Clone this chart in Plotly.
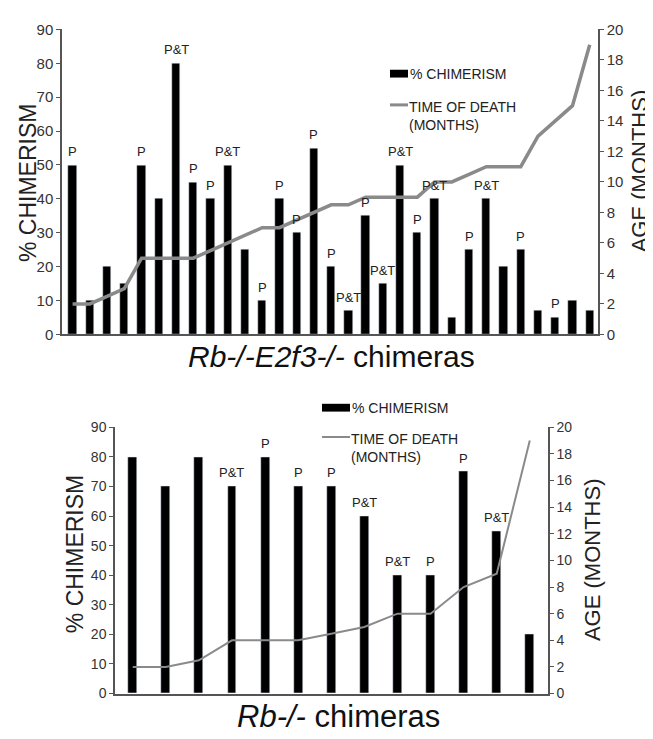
import plotly.graph_objects as go

# ---------------- data ----------------
top_mice = list(range(1, 32))
top_chimerism = [50, 10, 20, 15, 50, 40, 80, 45, 40, 50, 25, 10, 40, 30, 55, 20,
                 7, 35, 15, 50, 30, 40, 5, 25, 40, 20, 25, 7, 5, 10, 7]
top_death = [2, 2, 2.5, 3, 5, 5, 5, 5, 5.5, 6, 6.5, 7, 7, 7.5, 8, 8.5,
             8.5, 9, 9, 9, 9, 10, 10, 10.5, 11, 11, 11, 13, 14, 15, 19]
top_labels = ["P", "", "", "", "P", "", "P&T", "P", "P", "P&T", "", "P", "P", "P", "P", "P",
              "P&T", "P", "P&T", "P&T", "P", "P&T", "", "P", "P&T", "", "P", "", "P", "", ""]

bot_mice = list(range(1, 14))
bot_chimerism = [80, 70, 80, 70, 80, 70, 70, 60, 40, 40, 75, 55, 20]
bot_death = [2, 2, 2.5, 4, 4, 4, 4.5, 5, 6, 6, 8, 9, 19]
bot_labels = ["", "", "", "P&T", "P", "P", "P", "P&T", "P&T", "P", "P", "P&T", ""]

left_ticks = list(range(0, 91, 10))
right_ticks = list(range(0, 21, 2))

# ---------------- layout helpers ----------------
# The page body keeps the browser's default 8px margin, so the figure is
# sized to fill the remaining window and positions are measured from there.
OFF = 8
W, H = 653 - OFF, 739 - OFF
FONT = "Liberation Sans, Arial, Helvetica, sans-serif"
BAR = "#000000"
LINE = "#8a8a8a"
AX = "#555555"
TXT = "#222222"


def px(x):
    return (x - OFF) / W


def py(y):
    return 1 - (y - OFF) / H


fig = go.Figure()

# top chart
fig.add_trace(go.Bar(x=top_mice, y=top_chimerism, marker_color=BAR, width=0.48,
                     xaxis="x", yaxis="y", showlegend=False, name="% CHIMERISM"))
fig.add_trace(go.Scatter(x=top_mice, y=top_death, mode="lines",
                         line=dict(color=LINE, width=3.5),
                         xaxis="x", yaxis="y2", showlegend=False,
                         name="TIME OF DEATH (MONTHS)"))
# bottom chart
fig.add_trace(go.Bar(x=bot_mice, y=bot_chimerism, marker_color=BAR, width=0.27,
                     xaxis="x2", yaxis="y3", showlegend=False, name="% CHIMERISM"))
fig.add_trace(go.Scatter(x=bot_mice, y=bot_death, mode="lines",
                         line=dict(color=LINE, width=2),
                         xaxis="x2", yaxis="y4", showlegend=False,
                         name="TIME OF DEATH (MONTHS)"))

annotations = []
for xv, yv, lab in zip(top_mice, top_chimerism, top_labels):
    if lab:
        annotations.append(dict(x=xv, y=yv, xref="x", yref="y", text=lab,
                                showarrow=False, yanchor="bottom", yshift=4,
                                font=dict(family=FONT, size=13, color=TXT)))
for xv, yv, lab in zip(bot_mice, bot_chimerism, bot_labels):
    if lab:
        annotations.append(dict(x=xv, y=yv, xref="x2", yref="y3", text=lab,
                                showarrow=False, yanchor="bottom", yshift=4,
                                font=dict(family=FONT, size=13, color=TXT)))


def vtitle(text, x, y, size):
    return dict(x=px(x), y=py(y), xref="paper", yref="paper", text=text,
                textangle=-90, showarrow=False, xanchor="center", yanchor="middle",
                font=dict(family=FONT, size=size, color=TXT))


annotations += [
    vtitle("% CHIMERISM", 28, 178, 23),
    vtitle("AGE (MONTHS)", 639, 166, 22),
    vtitle("% CHIMERISM", 75, 558, 23),
    vtitle("AGE (MONTHS)", 592, 564, 22),
    dict(x=px(331), y=py(356), xref="paper", yref="paper",
         text="<i>Rb-/-E2f3-/-</i> chimeras", showarrow=False,
         xanchor="center", yanchor="middle",
         font=dict(family=FONT, size=30, color="#111111")),
    dict(x=px(338), y=py(724), xref="paper", yref="paper",
         text="<i>Rb-/-</i> chimeras", showarrow=False,
         xanchor="center", yanchor="middle",
         font=dict(family=FONT, size=31, color="#111111")),
]

shapes = []


def legend(x0, x1, ybar, yline, bar_h, lw, fs):
    shapes.append(dict(type="rect", xref="paper", yref="paper",
                       x0=px(x0), x1=px(x1), y0=py(ybar - bar_h / 2), y1=py(ybar + bar_h / 2),
                       fillcolor=BAR, line=dict(width=0)))
    shapes.append(dict(type="line", xref="paper", yref="paper",
                       x0=px(x0), x1=px(x1), y0=py(yline), y1=py(yline),
                       line=dict(color=LINE, width=lw)))
    annotations.append(dict(x=px(x1), y=py(ybar), xref="paper", yref="paper",
                            text="% CHIMERISM", showarrow=False, xanchor="left",
                            yanchor="middle", font=dict(family=FONT, size=fs, color=TXT)))
    annotations.append(dict(x=px(x1 - 1), y=py(yline - 8), xref="paper", yref="paper",
                            text="TIME OF DEATH<br>(MONTHS)", showarrow=False,
                            xanchor="left", yanchor="top", align="left",
                            font=dict(family=FONT, size=fs, color=TXT)))


legend(390, 408, 66, 98, 8, 3, 14)
legend(322, 350, 408, 438, 8, 2, 14)

common_y = dict(showline=True, linecolor=AX, linewidth=1.5, ticks="outside",
                ticklen=4, tickcolor=AX, showgrid=False, zeroline=False,
                tickfont=dict(family=FONT, size=15, color="#333333"))
common_x = dict(showline=True, linecolor=AX, linewidth=1.5, ticks="",
                showticklabels=False, showgrid=False, zeroline=False)
bot_tick = dict(family=FONT, size=14, color="#333333")

fig.update_layout(
    width=W, height=H,
    margin=dict(l=0, r=0, t=0, b=0),
    paper_bgcolor="white", plot_bgcolor="white",
    showlegend=False, bargap=0,
    xaxis=dict(domain=[px(62), px(598)], range=[0.386, 31.48], anchor="y", **common_x),
    yaxis=dict(domain=[py(333), py(20.7)], range=[0, 90], tickvals=left_ticks,
               anchor="x", **common_y),
    yaxis2=dict(overlaying="y", side="right", range=[0, 20], tickvals=right_ticks,
                anchor="x", **common_y),
    xaxis2=dict(domain=[px(115), px(548)], range=[0.465, 13.55], anchor="y3", **common_x),
    yaxis3=dict(domain=[py(700.7), py(428)], range=[0, 90], tickvals=left_ticks,
                anchor="x2", **{**common_y, "tickfont": bot_tick}),
    yaxis4=dict(overlaying="y3", side="right", range=[0, 20], tickvals=right_ticks,
                anchor="x2", **{**common_y, "tickfont": bot_tick}),
    annotations=annotations,
    shapes=shapes,
)

fig.write_html("out.html")
